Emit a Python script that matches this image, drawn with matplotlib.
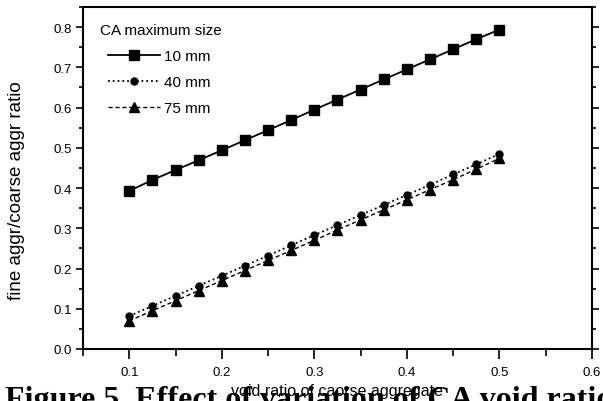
import matplotlib.pyplot as plt
from matplotlib.ticker import MultipleLocator

# data
void_ratio = [0.1, 0.125, 0.15, 0.175, 0.2, 0.225, 0.25, 0.275, 0.3,
              0.325, 0.35, 0.375, 0.4, 0.425, 0.45, 0.475, 0.5]
ca_10mm = [0.393, 0.420, 0.445, 0.469, 0.494, 0.519, 0.544, 0.569, 0.595,
           0.620, 0.645, 0.670, 0.695, 0.720, 0.745, 0.770, 0.794]
ca_40mm = [0.082, 0.107, 0.132, 0.157, 0.182, 0.207, 0.232, 0.258, 0.283,
           0.308, 0.333, 0.358, 0.383, 0.408, 0.434, 0.459, 0.485]
ca_75mm = [0.070, 0.095, 0.120, 0.145, 0.170, 0.195, 0.220, 0.245, 0.270,
           0.296, 0.321, 0.346, 0.371, 0.396, 0.421, 0.447, 0.474]

plt.rcParams['font.family'] = ['Liberation Sans', 'DejaVu Sans']

fig = plt.figure(figsize=(6.03, 4.02), dpi=100)
ax = fig.add_axes([0.1376, 0.1294, 0.8442, 0.8506])

ax.plot(void_ratio, ca_10mm, '-', color='black', lw=1.3, marker='s', ms=6.5, label='10 mm')
ax.plot(void_ratio, ca_40mm, ':', color='black', lw=1.3, marker='o', ms=5, label='40 mm')
ax.plot(void_ratio, ca_75mm, '--', color='black', lw=1.0, marker='^', ms=7,
        dashes=(3, 2), label='75 mm')

ax.set_xlim(0.05, 0.6)
ax.set_ylim(0.0, 0.85)
ax.xaxis.set_minor_locator(MultipleLocator(0.05))
ax.yaxis.set_minor_locator(MultipleLocator(0.05))
ax.set_xticks([0.1, 0.2, 0.3, 0.4, 0.5, 0.6])
ax.set_xticklabels(['0.1', '0.2', '0.3', '0.4', '0.5', '0.6'])
ax.set_yticks([0.0, 0.1, 0.2, 0.3, 0.4, 0.5, 0.6, 0.7, 0.8])
ax.set_yticklabels(['0.0', '0.1', '0.2', '0.3', '0.4', '0.5', '0.6', '0.7', '0.8'])

for s in ax.spines.values():
    s.set_linewidth(1.5)

ax.tick_params(axis='both', which='major', direction='out', labelsize=9.5, width=1.2)
ax.tick_params(axis='x', which='major', length=7, pad=5)
ax.tick_params(axis='x', which='minor', length=5, width=1.2)
ax.tick_params(axis='y', which='major', length=5, pad=3, right=True)
ax.tick_params(axis='y', which='minor', length=3, width=1.2, right=True)

ax.set_ylabel('fine aggr/coarse aggr ratio', fontsize=13.5)
ax.yaxis.set_label_coords(-0.114, 0.465)
ax.set_xlabel('void ratio of caorse aggregate', fontsize=11.5, labelpad=4)

# legend title drawn as its own text, entries indented below it
ax.text(17 / 509, 0.933, 'CA maximum size', transform=ax.transAxes,
        fontsize=11, va='center', ha='left')
ax.legend(loc='upper left', bbox_to_anchor=(0.038, 0.895), frameon=False,
          fontsize=11, handlelength=3.4, handletextpad=0.25,
          labelspacing=0.78, borderaxespad=0.0)

fig.text(0.008, 0.04, 'Figure 5. Effect of variation of CA void ratio',
         fontsize=23, fontweight='bold', family='Liberation Serif', va='top')

fig.savefig('out.png', dpi=100)
